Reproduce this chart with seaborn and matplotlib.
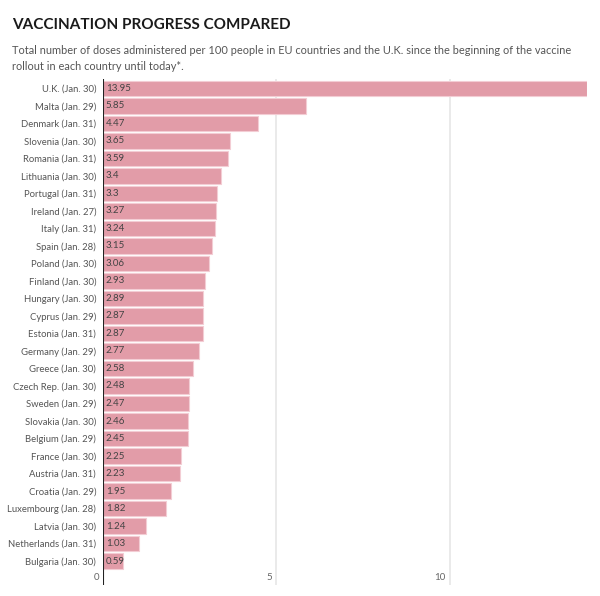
import matplotlib
matplotlib.use("Agg")
import matplotlib.pyplot as plt
import seaborn as sns
import pandas as pd

countries = ["U.K. (Jan. 30)", "Malta (Jan. 29)", "Denmark (Jan. 31)", "Slovenia (Jan. 30)",
             "Romania (Jan. 31)", "Lithuania (Jan. 30)", "Portugal (Jan. 31)", "Ireland (Jan. 27)",
             "Italy (Jan. 31)", "Spain (Jan. 28)", "Poland (Jan. 30)", "Finland (Jan. 30)",
             "Hungary (Jan. 30)", "Cyprus (Jan. 29)", "Estonia (Jan. 31)", "Germany (Jan. 29)",
             "Greece (Jan. 30)", "Czech Rep. (Jan. 30)", "Sweden (Jan. 29)", "Slovakia (Jan. 30)",
             "Belgium (Jan. 29)", "France (Jan. 30)", "Austria (Jan. 31)", "Croatia (Jan. 29)",
             "Luxembourg (Jan. 28)", "Latvia (Jan. 30)", "Netherlands (Jan. 31)", "Bulgaria (Jan. 30)"]
doses = [13.95, 5.85, 4.47, 3.65, 3.59, 3.4, 3.3, 3.27, 3.24, 3.15, 3.06, 2.93, 2.89, 2.87,
         2.87, 2.77, 2.58, 2.48, 2.47, 2.46, 2.45, 2.25, 2.23, 1.95, 1.82, 1.24, 1.03, 0.59]
value_labels = ["13.95", "5.85", "4.47", "3.65", "3.59", "3.4", "3.3", "3.27", "3.24", "3.15",
                "3.06", "2.93", "2.89", "2.87", "2.87", "2.77", "2.58", "2.48", "2.47", "2.46",
                "2.45", "2.25", "2.23", "1.95", "1.82", "1.24", "1.03", "0.59"]
xticks = [0, 5, 10]

sns.set_theme(style="white")
plt.rcParams['font.family'] = ['Lato', 'DejaVu Sans']

df = pd.DataFrame({"country": countries, "doses": doses})

fig = plt.figure(figsize=(6, 5.96), dpi=100)
ax = fig.add_axes([103/600, 1 - 585/596, 484/600, (585-79)/596])

sns.barplot(data=df, x="doses", y="country", color="#e29ca8", saturation=1,
            width=0.9, edgecolor="#f3cdd4", linewidth=0.8, ax=ax, zorder=2)

ax.set_xlim(0, 13.95)
ax.set_ylim(28.37, -0.54)
ax.set_xlabel("")
ax.set_ylabel("")
for s in ax.spines.values():
    s.set_visible(False)

for t in xticks[1:]:
    ax.axvline(t, color="#e6e6e6", lw=1.2, zorder=0)
ax.axvline(0, color="#222222", lw=1.5, zorder=3)

ax.set_xticks([])
ax.tick_params(axis="y", length=0, pad=5, labelsize=6.8, labelcolor="#555555")

for i, lab in enumerate(value_labels):
    ax.text(0.08, i, lab, va="center", ha="left", fontsize=7, color="#444444", zorder=4)

for t in xticks:
    ax.text(t - 0.12, 27.95, str(t), ha="right", va="center", fontsize=7, color="#666666")

fig.text(12/600, 1 - 25/596, "VACCINATION PROGRESS COMPARED", fontsize=11, fontweight="bold",
         color="#1a1a1a", va="center", ha="left")
fig.text(12/600, 1 - 50/596, "Total number of doses administered per 100 people in EU countries and the U.K. since the beginning of the vaccine",
         fontsize=7.9, color="#555555", va="center", ha="left")
fig.text(12/600, 1 - 66/596, "rollout in each country until today*.",
         fontsize=7.9, color="#555555", va="center", ha="left")

fig.savefig("out.png", dpi=100, facecolor="white")
